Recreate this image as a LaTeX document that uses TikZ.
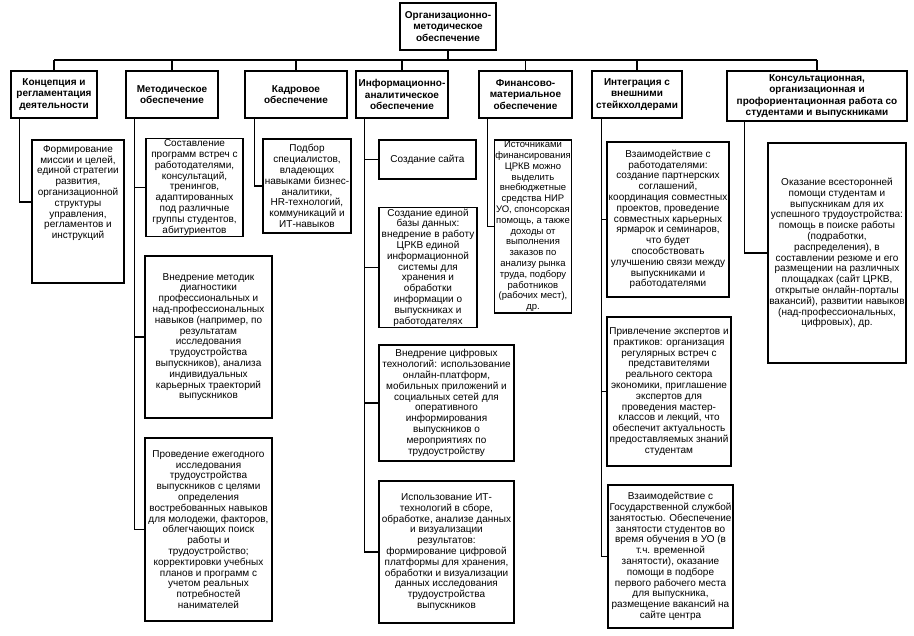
\documentclass[tikz,border=0pt]{standalone}
\usepackage{fontspec}
\setmainfont{Liberation Sans}
\begin{document}
\begin{tikzpicture}[x=1pt,y=-1pt,
  box/.style={draw, line width=1.4pt, align=center, inner sep=1pt, font=\fontsize{10}{10.8}\selectfont},
  head/.style={box, font=\bfseries\fontsize{10}{11.5}\selectfont},
  plain/.style={align=center, inner sep=0pt, font=\fontsize{10}{10.8}\selectfont},
  wire/.style={line width=1.4pt}]
\useasboundingbox (0,0) rectangle (914,636);

% top
\node[head, minimum width=96pt, minimum height=47pt] (top) at (448,26.5) {Организационно-\\методическое\\обеспечение};

% level 1
\node[head, minimum width=86pt, minimum height=47pt] (b1) at (54,94.5) {Концепция и\\регламентация\\деятельности};
\node[head, minimum width=92pt, minimum height=47pt] (b2) at (172,94.5) {Методическое\\обеспечение};
\node[head, minimum width=102pt, minimum height=47pt] (b3) at (296,94.5) {Кадровое\\обеспечение};
\node[head, minimum width=92pt, minimum height=47pt] (b4) at (402,94.5) {Информационно-\\аналитическое\\обеспечение};
\node[head, minimum width=93pt, minimum height=47pt] (b5) at (525.5,94.5) {Финансово-\\материальное\\обеспечение};
\node[head, minimum width=90pt, minimum height=47pt] (b6) at (637,94.5) {Интеграция с\\внешними\\стейкхолдерами};
\node[head, minimum width=180pt, minimum height=50pt] (b7) at (817,96) {Консультационная,\\организационная и\\профориентационная работа со\\студентами и выпускниками};

% children
\node[box, minimum width=92pt, minimum height=143pt] (c11) at (78,211.5) {};
\node[plain] (c11t) at (78,193) {Формирование\\миссии и целей,\\единой стратегии\\развития,\\организационной\\структуры\\управления,\\регламентов и\\инструкций};

\node[box, minimum width=97pt, minimum height=97pt] (c21) at (194.5,187.5) {Составление\\программ встреч с\\работодателями,\\консультаций,\\тренингов,\\адаптированных\\под различные\\группы студентов,\\абитуриентов};
\node[box, minimum width=127pt, minimum height=162pt] (c22) at (208.5,337) {Внедрение методик\\диагностики\\профессиональных и\\над-профессиональных\\навыков (например, по\\результатам\\исследования\\трудоустройства\\выпускников), анализа\\индивидуальных\\карьерных траекторий\\выпускников};
\node[box, minimum width=127pt, minimum height=183pt] (c23) at (208.5,529.5) {Проведение ежегодного\\исследования\\трудоустройства\\выпускников с целями\\определения\\востребованных навыков\\для молодежи, факторов,\\облегчающих поиск\\работы и\\трудоустройство;\\корректировки учебных\\планов и программ с\\учетом реальных\\потребностей\\нанимателей};

\node[box, minimum width=88pt, minimum height=94pt] (c31) at (307,186) {Подбор\\специалистов,\\владеющих\\навыками бизнес-\\аналитики,\\HR-технологий,\\коммуникаций и\\ИТ-навыков};

\node[box, minimum width=97pt, minimum height=39pt] (c41) at (427.5,159.5) {Создание сайта};
\node[box, minimum width=98pt, minimum height=119pt] (c42) at (428,267.5) {Создание единой\\базы данных:\\внедрение в работу\\ЦРКВ единой\\информационной\\системы для\\хранения и\\обработки\\информации о\\выпускниках и\\работодателях};
\node[box, minimum width=135pt, minimum height=116pt] (c43) at (446.5,403) {Внедрение цифровых\\технологий: использование\\онлайн-платформ,\\мобильных приложений и\\социальных сетей для\\оперативного\\информирования\\выпускников о\\мероприятиях по\\трудоустройству};
\node[box, minimum width=135pt, minimum height=142pt] (c44) at (446.5,552) {Использование ИТ-\\технологий в сборе,\\обработке, анализе данных\\и визуализации\\результатов:\\формирование цифровой\\платформы для хранения,\\обработки и визуализации\\данных исследования\\трудоустройства\\выпускников};

\node[box, minimum width=74pt, minimum height=173pt, font=\fontsize{9.5}{10.8}\selectfont] (c51) at (533,226.5) {Источниками\\финансирования\\ЦРКВ можно\\выделить\\внебюджетные\\средства НИР\\УО, спонсорская\\помощь, а также\\доходы от\\выполнения\\заказов по\\анализу рынка\\труда, подбору\\работников\\(рабочих мест),\\др.};

\node[box, minimum width=122pt, minimum height=155pt] (c61) at (668,219.5) {Взаимодействие с\\работодателями:\\создание партнерских\\соглашений,\\координация совместных\\проектов, проведение\\совместных карьерных\\ярмарок и семинаров,\\что будет\\способствовать\\улучшению связи между\\выпускниками и\\работодателями};
\node[box, minimum width=124pt, minimum height=149pt] (c62) at (669,391.5) {Привлечение экспертов и\\практиков: организация\\регулярных встреч с\\представителями\\реального сектора\\экономики, приглашение\\экспертов для\\проведения мастер-\\классов и лекций, что\\обеспечит актуальность\\предоставляемых знаний\\студентам};
\node[box, minimum width=125pt, minimum height=143pt] (c63) at (670.5,556.5) {Взаимодействие с\\Государственной службой\\занятостью. Обеспечение\\занятости студентов во\\время обучения в УО (в\\т.ч. временной\\занятости), оказание\\помощи в подборе\\первого рабочего места\\для выпускника,\\размещение вакансий на\\сайте центра};

\node[box, minimum width=138pt, minimum height=220pt] (c71) at (837,253) {Оказание всесторонней\\помощи студентам и\\выпускникам для их\\успешного трудоустройства:\\помощь в поиске работы\\(подработки,\\распределения), в\\составлении резюме и его\\размещении на различных\\площадках (сайт ЦРКВ,\\открытые онлайн-порталы\\вакансий), развитии навыков\\(над-профессиональных,\\цифровых), др.};

% bus
\coordinate (bus) at (0,60);
\draw[wire] (top.south) -- (top.south |- bus);
\draw[wire] (b1.north |- bus) -- (b7.north |- bus);
\foreach \b in {b1,b2,b3,b4,b5,b6,b7} \draw[wire] (\b.north |- bus) -- (\b.north);

% spines
\coordinate (c11in) at ([yshift=9.5pt]c11.west);
\draw[wire] ([xshift=9pt]b1.south west) |- (c11in);
\draw[wire] ([xshift=9pt]b2.south west) |- (c23.west);
\draw[wire] ([xshift=9pt]b2.south west) |- (c21.west);
\draw[wire] ([xshift=9pt]b2.south west) |- (c22.west);
\draw[wire] ([xshift=10pt]b3.south west) |- (c31.west);
\draw[wire] ([xshift=9pt]b4.south west) |- (c44.west);
\draw[wire] ([xshift=9pt]b4.south west) |- (c41.west);
\draw[wire] ([xshift=9pt]b4.south west) |- (c42.west);
\draw[wire] ([xshift=9pt]b4.south west) |- (c43.west);
\draw[wire] ([xshift=9pt]b5.south west) |- (c51.west);
\draw[wire] ([xshift=10pt]b6.south west) |- (c63.west);
\draw[wire] ([xshift=10pt]b6.south west) |- (c61.west);
\draw[wire] ([xshift=10pt]b6.south west) |- (c62.west);
\draw[wire] ([xshift=18pt]b7.south west) |- (c71.west);
\end{tikzpicture}
\end{document}
